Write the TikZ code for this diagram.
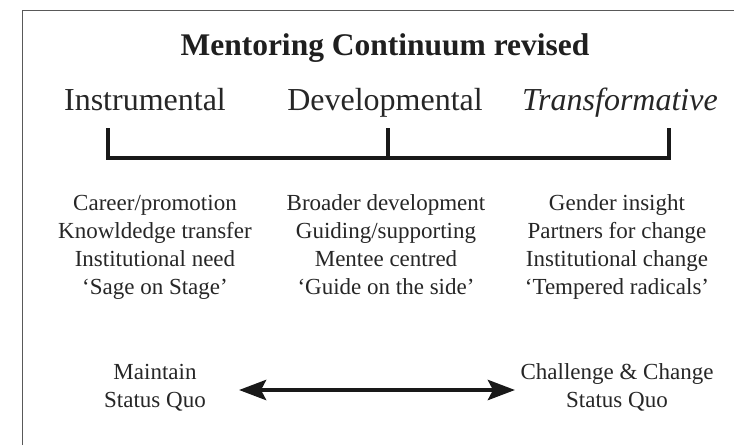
\documentclass[tikz,border=0pt]{standalone}
\usepackage{fontspec}
\setmainfont{Liberation Serif}
\usetikzlibrary{arrows.meta,positioning}
\tikzstyle{title} = [font=\fontsize{31.5}{36}\selectfont\bfseries, anchor=base, text=black!88]
\tikzstyle{heading} = [font=\fontsize{32}{36}\selectfont, anchor=base, text=black!85]
\tikzstyle{item} = [font=\fontsize{23}{28}\selectfont, align=center, anchor=base, text=black!85]
\tikzstyle{bracket} = [line width=4pt, line join=miter, black!90]
\tikzstyle{arrow} = [line width=4.5pt, black!90, {Stealth[length=27pt,width=20pt,inset=5pt]}-{Stealth[length=27pt,width=20pt,inset=5pt]}]

\begin{document}
\begin{tikzpicture}[x=1pt,y=-1pt]
	\useasboundingbox (0,0) rectangle (734,445);
	\draw[black!65, line width=1pt] (22,445) -- (22,10) -- (734,10);
	\node (title) [title] at (385,55) {Mentoring Continuum revised};
	\node (instr) [heading] at (145,110) {Instrumental};
	\node (devel) [heading] at (385,110) {Developmental};
	\node (trans) [heading] at (620,110) {\itshape Transformative};
	% bracket
	\coordinate (lefttop) at (108,128);
	\coordinate (midtop) at (388,128);
	\coordinate (righttop) at (669,128);
	\coordinate (leftbot) at (108,158);
	\coordinate (midbot) at (388,158);
	\coordinate (rightbot) at (669,158);
	\draw [bracket] (lefttop) -- (leftbot) -- (rightbot) -- (righttop);
	\draw [bracket] (midtop) -- (midbot);
	% lists (base = last line)
	\node (instrlist) [item] at (155,294) {Career/promotion\\Knowldedge transfer\\Institutional need\\‘Sage on Stage’};
	\node (devellist) [item] at (386,294) {Broader development\\Guiding/supporting\\Mentee centred\\‘Guide on the side’};
	\node (translist) [item] at (617,294) {Gender insight\\Partners for change\\Institutional change\\‘Tempered radicals’};
	\node (maintain) [item] at (155,407) {Maintain\\Status Quo};
	\node (challenge) [item] at (617,407) {Challenge \& Change\\Status Quo};
	\coordinate (arrowleft) at (239,390);
	\coordinate (arrowright) at (515,390);
	\draw [arrow] (arrowleft) -- (arrowright);
\end{tikzpicture}
\end{document}
